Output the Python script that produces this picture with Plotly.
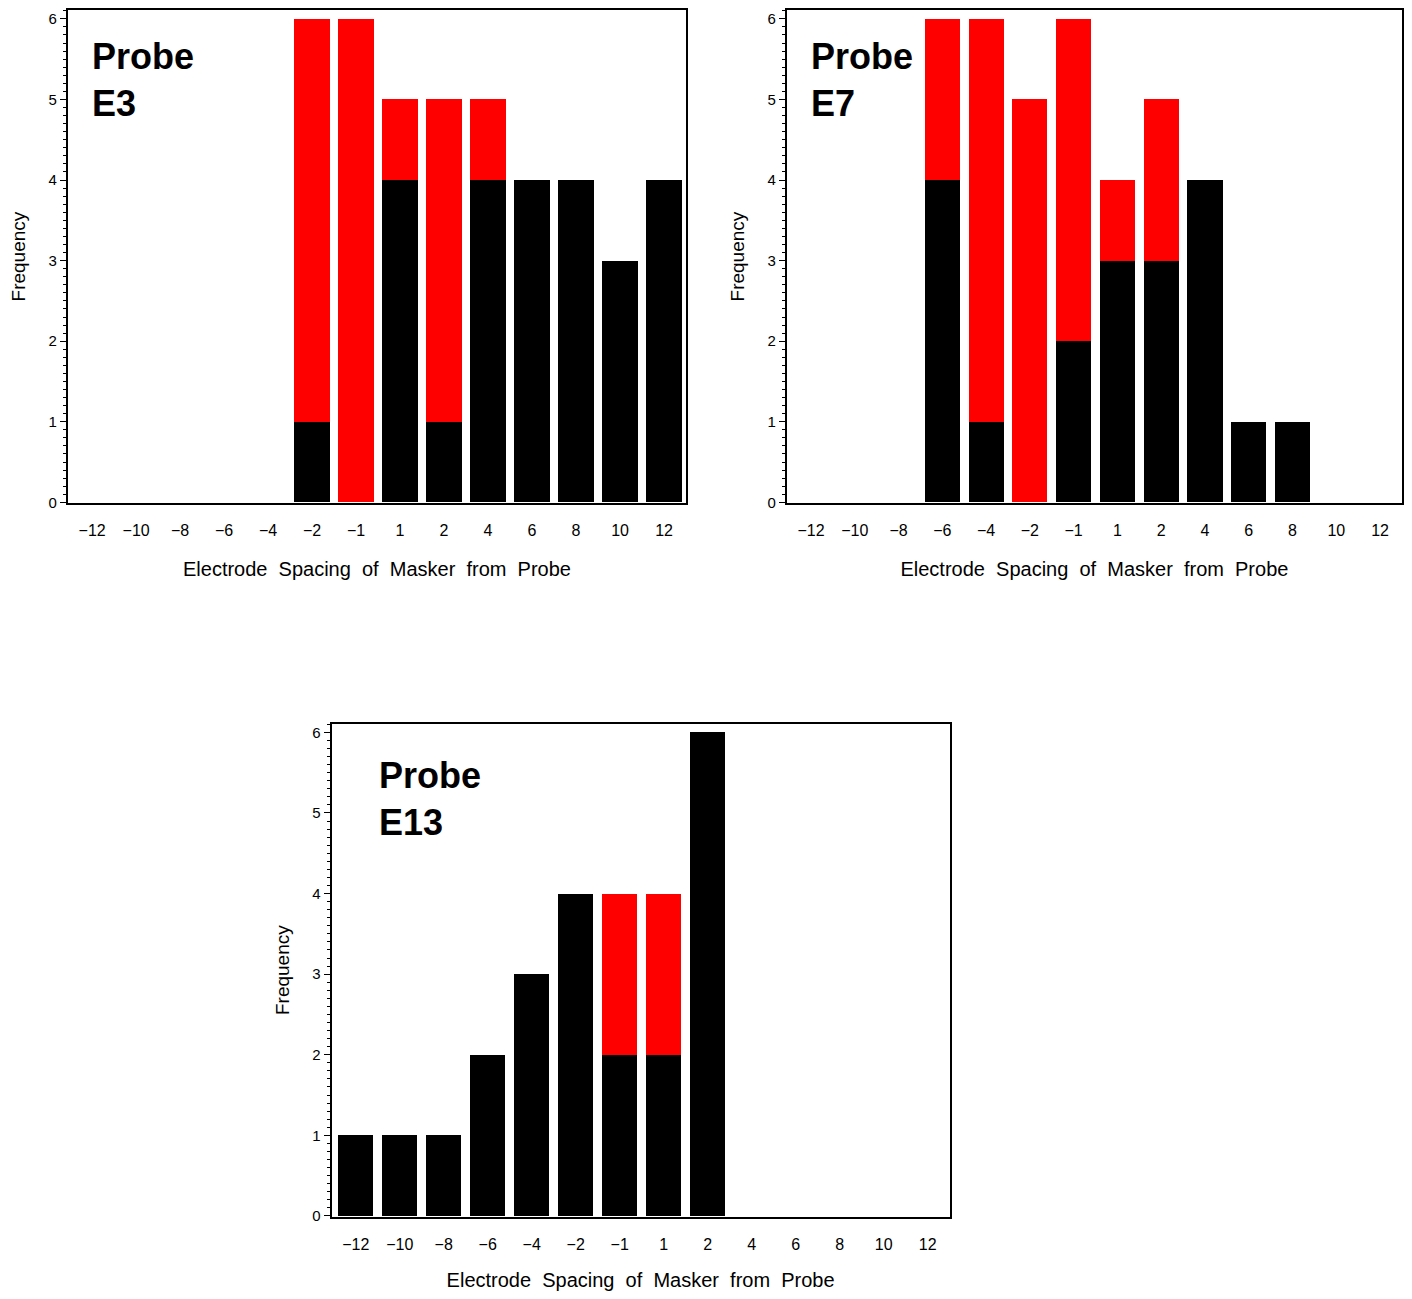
import plotly.graph_objects as go

categories = ["-12", "-10", "-8", "-6", "-4", "-2", "-1", "1", "2", "4", "6", "8", "10", "12"]
tick_labels = ["\u221212", "\u221210", "\u22128", "\u22126", "\u22124", "\u22122", "\u22121",
               "1", "2", "4", "6", "8", "10", "12"]

# Probe E3
e3_black = [0, 0, 0, 0, 0, 1, 0, 4, 1, 4, 4, 4, 3, 4]
e3_red   = [0, 0, 0, 0, 0, 5, 6, 1, 4, 1, 0, 0, 0, 0]
# Probe E7
e7_black = [0, 0, 0, 4, 1, 0, 2, 3, 3, 4, 1, 1, 0, 0]
e7_red   = [0, 0, 0, 2, 5, 5, 4, 1, 2, 0, 0, 0, 0, 0]
# Probe E13
e13_black = [1, 1, 1, 2, 3, 4, 2, 2, 6, 0, 0, 0, 0, 0]
e13_red   = [0, 0, 0, 0, 0, 0, 2, 2, 0, 0, 0, 0, 0, 0]

panel_names = ["Probe<br>E3", "Probe<br>E7", "Probe<br>E13"]

FONT = "Liberation Sans, Arial, sans-serif"
OFF = 8  # page body margin
W, H = 1412 - 2 * OFF, 1299 - 2 * OFF


def xd(a, b):
    return [max(0.0, (a - OFF) / W), min(1.0, (b - OFF) / W)]


def yd(top, bot):
    return [max(0.0, 1 - (bot - OFF) / H), min(1.0, 1 - (top - OFF) / H)]


fig = go.Figure()

panels = [
    (e3_black, e3_red, "x", "y", xd(68, 687), yd(9, 508), 0.036, 0.952),
    (e7_black, e7_red, "x2", "y2", xd(788, 1404), yd(9, 508), 0.036, 0.952),
    (e13_black, e13_red, "x3", "y3", xd(332, 951), yd(731, 1230), 0.073, 0.94),
]

layout = {}
xpos = list(range(len(categories)))
for i, (blk, red, xa, ya, xdom, ydom, ax, ay) in enumerate(panels):
    fig.add_trace(go.Bar(x=xpos, y=blk, marker=dict(color="black", line=dict(width=0)),
                         xaxis=xa, yaxis=ya, showlegend=False, width=0.8))
    fig.add_trace(go.Bar(x=xpos, y=red, marker=dict(color="#ff0000", line=dict(width=0)),
                         xaxis=xa, yaxis=ya, showlegend=False, width=0.8))
    suffix = "" if i == 0 else str(i + 1)
    layout["xaxis" + suffix] = dict(
        domain=xdom, anchor=ya, range=[-0.55, 13.5],
        tickmode="array", tickvals=xpos, ticktext=tick_labels,
        ticks="", ticklabelstandoff=12,
        showline=True, linecolor="black", linewidth=2, mirror=True,
        showgrid=False, zeroline=False,
        tickfont=dict(family=FONT, size=16, color="black"),
        title=dict(text="Electrode  Spacing  of  Masker  from  Probe",
                   font=dict(family=FONT, size=20, color="black"), standoff=24),
    )
    layout["yaxis" + suffix] = dict(
        domain=ydom, anchor=xa, range=[-0.01, 6.11],
        tickmode="linear", tick0=0, dtick=1,
        ticks="outside", ticklen=6, tickwidth=1, tickcolor="black",
        minor=dict(ticks="outside", ticklen=3, dtick=0.1, tickcolor="black", tickwidth=1),
        showline=True, linecolor="black", linewidth=2, mirror=True,
        showgrid=False, zeroline=False,
        tickfont=dict(family=FONT, size=15, color="black"),
        title=dict(text="Frequency", font=dict(family=FONT, size=19, color="black"), standoff=18),
    )
    fig.add_annotation(x=ax, y=ay, xref=xa + " domain", yref=ya + " domain",
                       text="<b>" + panel_names[i] + "</b>", showarrow=False,
                       xanchor="left", yanchor="top", align="left",
                       font=dict(family=FONT, size=36, color="black"))

fig.update_layout(
    width=W, height=H,
    margin=dict(l=0, r=0, t=0, b=0),
    paper_bgcolor="white", plot_bgcolor="white",
    barmode="stack", bargap=0.2,
    **layout,
)

fig.write_html("out.html")
